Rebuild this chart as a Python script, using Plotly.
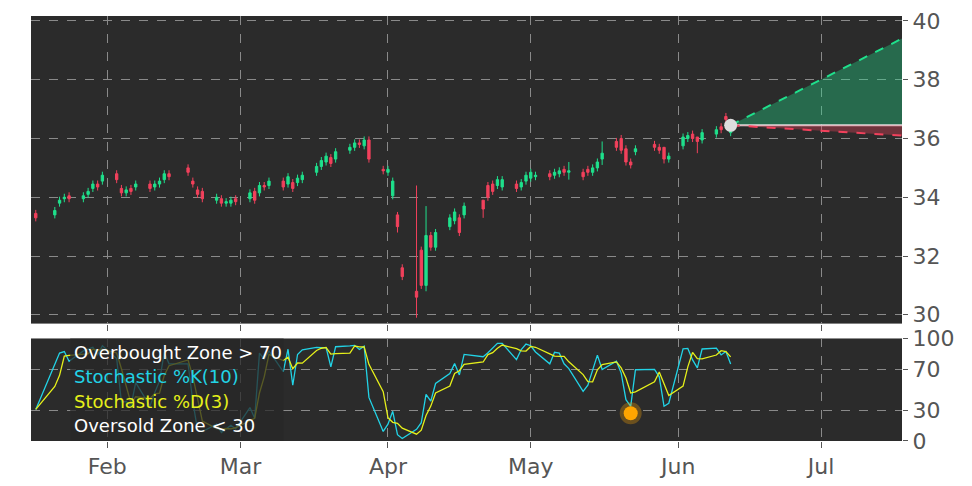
import pandas as pd
import plotly.graph_objects as go
from plotly.subplots import make_subplots

holidays = ["2025-01-20", "2025-02-17", "2025-04-18", "2025-05-26"]
dates = [d for d in pd.bdate_range("2025-01-17", "2025-06-12") if d.strftime("%Y-%m-%d") not in holidays]

opens = [33.45, 33.40, 33.80, 33.95, 34.05, 33.95, 34.10, 34.30, 34.45, 34.55,
         34.80, 34.30, 34.15, 34.30, 34.35, 34.45, 34.35, 34.45, 34.60, 34.80,
         35.00, 34.55, 34.25, 34.20, 33.90, 33.95, 33.80, 33.80, 33.95,
         33.95, 34.20, 34.15, 34.40, 34.40, 34.55, 34.45, 34.50, 34.50, 34.60,
         34.85, 35.05, 35.20, 35.35, 35.30, 35.60, 35.70, 35.85, 35.75, 35.95, 34.95,
         34.85, 34.05, 33.40, 31.60, 30.80, 32.20, 31.00, 32.70, 32.30, 33.00,
         33.20, 33.30, 33.40, 33.90, 34.40, 34.45, 34.40, 34.35, 34.45, 34.35, 34.55,
         34.65, 34.70, 34.80, 34.75, 34.80, 34.95, 34.85, 34.85, 34.95, 34.85, 35.00,
         35.30, 35.90, 36.00, 35.65, 35.20, 35.55, 35.80, 35.70, 35.70, 35.30,
         35.75, 36.00, 36.15, 36.05, 35.95, 36.15, 36.40, 36.75, 36.20]
closes = [33.30, 33.55, 33.90, 34.00, 33.95, 34.05, 34.20, 34.45, 34.35, 34.75,
          34.60, 34.15, 34.25, 34.20, 34.45, 34.30, 34.45, 34.55, 34.80, 34.70,
          34.85, 34.45, 34.10, 33.95, 34.00, 33.80, 33.85, 33.90, 33.85,
          34.15, 33.90, 34.40, 34.35, 34.55, 34.35, 34.70, 34.30, 34.65, 34.75,
          35.05, 35.25, 35.40, 35.15, 35.55, 35.70, 35.85, 35.80, 35.95, 35.30, 34.90,
          34.95, 34.55, 33.00, 31.30, 30.60, 31.00, 32.70, 32.30, 32.80, 33.30,
          33.50, 32.80, 33.70, 33.60, 34.00, 34.20, 34.60, 34.60, 34.30, 34.50, 34.75,
          34.85, 34.75, 34.70, 34.85, 34.90, 34.85, 34.90, 34.70, 34.85, 35.00, 35.20,
          35.50, 35.70, 35.60, 35.20, 35.10, 35.65, 35.70, 35.60, 35.30, 35.40,
          36.05, 36.10, 36.00, 35.90, 36.20, 36.30, 36.30, 36.65, 36.45]
big_wicks = {"2025-04-07": (34.40, 29.90), "2025-04-09": (33.70, 30.80), "2025-04-03": (33.50, 32.80),
             "2025-04-21": (33.90, 33.30), "2025-05-16": (35.90, 35.10), "2025-06-05": (36.05, 35.50),
             "2025-05-09": (35.20, 34.60), "2025-05-29": (35.70, 35.15)}
highs, lows = [], []
for d, o, c in zip(dates, opens, closes):
    h, l = big_wicks.get(d.strftime("%Y-%m-%d"), (max(o, c) + 0.12, min(o, c) - 0.12))
    highs.append(h)
    lows.append(l)

fc_x = ["2025-06-12", "2025-07-18"]
fc_mid = [36.45, 36.45]
fc_up = [36.45, 39.40]
fc_lo = [36.45, 36.10]

df = pd.DataFrame({"o": opens, "h": highs, "l": lows, "c": closes}, index=dates)
ll = df["l"].rolling(10, min_periods=1).min()
hh = df["h"].rolling(10, min_periods=1).max()
k = 100 * (df["c"] - ll) / (hh - ll)
dline = k.rolling(3, min_periods=1).mean()

green, red = "#1fe08c", "#f2415c"
fig = make_subplots(rows=2, cols=1, shared_xaxes=True, row_heights=[0.75, 0.25], vertical_spacing=0.035)
fig.add_trace(go.Candlestick(x=dates, open=opens, high=highs, low=lows, close=closes, whiskerwidth=0,
                             increasing=dict(line=dict(color=green, width=1), fillcolor=green),
                             decreasing=dict(line=dict(color=red, width=1), fillcolor=red)), 1, 1)
fig.add_trace(go.Scatter(x=fc_x, y=fc_mid, mode="lines", line=dict(color="#dddddd", width=2)), 1, 1)
fig.add_trace(go.Scatter(x=fc_x, y=fc_up, mode="lines", line=dict(color="#1fe08c", width=2, dash="dash"),
                         fill="tonexty", fillcolor="rgba(31,224,140,0.35)"), 1, 1)
fig.add_trace(go.Scatter(x=fc_x, y=fc_mid, mode="lines", line=dict(width=0), showlegend=False), 1, 1)
fig.add_trace(go.Scatter(x=fc_x, y=fc_lo, mode="lines", line=dict(color=red, width=2, dash="dash"),
                         fill="tonexty", fillcolor="rgba(242,65,92,0.35)"), 1, 1)
fig.add_trace(go.Scatter(x=[fc_x[0]], y=[fc_mid[0]], mode="markers",
                         marker=dict(color="#dddddd", size=13)), 1, 1)

fig.add_trace(go.Scatter(x=dates, y=k, mode="lines", line=dict(color="#22d3e6", width=1.3)), 2, 1)
fig.add_trace(go.Scatter(x=dates, y=dline, mode="lines", line=dict(color="#e6f01a", width=1.3)), 2, 1)
fig.add_trace(go.Scatter(x=["2025-05-22"], y=[27], mode="markers",
                         marker=dict(color="orange", size=14, line=dict(color="rgba(255,165,0,0.3)", width=8))), 2, 1)

for i, (txt, col) in enumerate([("Overbought Zone > 70", "white"), ("Stochastic %K(10)", "#22d3e6"),
                                 ("Stochastic %D(3)", "#e6f01a"), ("Oversold Zone < 30", "white")]):
    fig.add_annotation(x=0.047, y=0.86 - i * 0.235, xref="x2 domain", yref="y2 domain", text=txt,
                       showarrow=False, xanchor="left", yanchor="middle",
                       font=dict(color=col, size=18, family="DejaVu Sans"))
fig.add_shape(type="rect", xref="x2 domain", yref="y2 domain", x0=0.045, x1=0.29, y0=0, y1=1,
              fillcolor="rgba(40,40,40,0.75)", line_width=0, layer="above")

grid = dict(showgrid=True, gridcolor="#8a8a8a", griddash="dash", gridwidth=1, zeroline=False)
fig.update_xaxes(range=["2025-01-16", "2025-07-18"], **grid, ticks="outside", ticklen=6,
                 tickcolor="#555", tickfont=dict(size=22, color="#555"), dtick="M1", tickformat="%b",
                 rangeslider_visible=False)
fig.update_yaxes(side="right", **grid, tickfont=dict(size=22, color="#555"), ticks="outside", ticklen=5, tickcolor="#555")
fig.update_yaxes(range=[29.7, 40.17], dtick=2, row=1, col=1)
fig.update_yaxes(range=[0, 100], tickvals=[0, 30, 70, 100], row=2, col=1)
fig.update_layout(width=972, height=486, margin=dict(l=23, r=78, t=8, b=53, autoexpand=False), showlegend=False,
                  plot_bgcolor="#2b2b2b", paper_bgcolor="white", font=dict(family="DejaVu Sans"))
fig.write_html("out.html")
